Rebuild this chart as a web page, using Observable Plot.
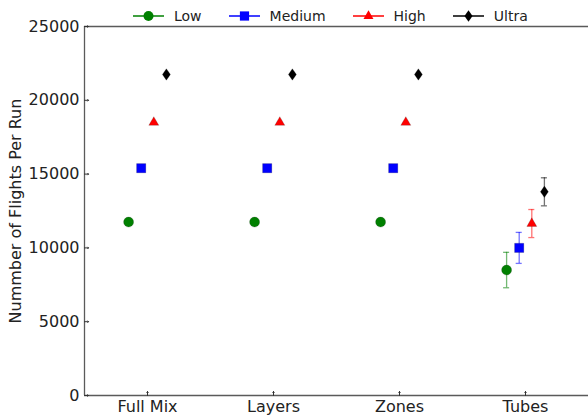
<!DOCTYPE html>
<html>
<head>
<meta charset="utf-8">
<script src="https://cdn.jsdelivr.net/npm/d3@7"></script>
<script src="https://cdn.jsdelivr.net/npm/@observablehq/plot@0.6"></script>
<style>
  html, body { margin: 0; padding: 0; background: #fff; }
  #wrap { position: relative; width: 588px; height: 418px; font-family: "DejaVu Sans", sans-serif; }
  #legend { position: absolute; top: 6px; left: 133px; display: flex; align-items: center; font-size: 14px; color: #222; }
  #legend .item { display: flex; align-items: center; margin-right: 27px; }
  #legend svg { margin-right: 10px; overflow: visible; }
</style>
</head>
<body>
<div id="wrap"><div id="legend"></div></div>
<script>
const categories = ["Full Mix", "Layers", "Zones", "Tubes"];
const seriesNames = ["Low", "Medium", "High", "Ultra"];
const lowValues = [11750, 11750, 11750, 8500];
const lowErrors = [0, 0, 0, 1200];
const mediumValues = [15400, 15400, 15400, 10000];
const mediumErrors = [0, 0, 0, 1050];
const highValues = [18500, 18500, 18500, 11650];
const highErrors = [0, 0, 0, 950];
const ultraValues = [21750, 21750, 21750, 13800];
const ultraErrors = [0, 0, 0, 950];
const yTicks = [0, 5000, 10000, 15000, 20000, 25000];
const yLabel = "Nummber of Flights Per Run";

const colors = ["#008000", "#0000ff", "#ff0000", "#000000"];
const offsets = [-0.15, -0.05, 0.05, 0.15];
const markerR = [5, 5.2, 3.7, 5];
const thinDiamond = {
  draw(context, size) {
    const r = Math.sqrt(size / Math.PI);
    const w = r * 0.8, h = r * 1.15;
    context.moveTo(0, -h);
    context.lineTo(w, 0);
    context.lineTo(0, h);
    context.lineTo(-w, 0);
    context.closePath();
  }
};
const symbols = [d3.symbolCircle, d3.symbolSquare, d3.symbolTriangle, thinDiamond];

const valueSets = [lowValues, mediumValues, highValues, ultraValues];
const errorSets = [lowErrors, mediumErrors, highErrors, ultraErrors];
const rows = [];
seriesNames.forEach((s, si) => {
  categories.forEach((c, ci) => {
    rows.push({
      series: s,
      si,
      x: ci + offsets[si],
      y: valueSets[si][ci],
      lo: valueSets[si][ci] - errorSets[si][ci],
      hi: valueSets[si][ci] + errorSets[si][ci],
      err: errorSets[si][ci]
    });
  });
});
const errRows = rows.filter(d => d.err > 0);
const cap = 0.024;
const xTicks = d3.range(categories.length);
const xMin = -0.5, xMax = categories.length - 0.5;
const yMin = yTicks[0], yMax = yTicks[yTicks.length - 1];
const axisColor = "#5a5a5a";

const dotMarks = seriesNames.map((s, si) =>
  Plot.dot(rows.filter(d => d.si === si), {
    x: "x", y: "y", fill: colors[si], symbol: symbols[si], r: markerR[si],
    stroke: "#222", strokeWidth: 0.4, strokeOpacity: 0.5
  })
);

const chart = Plot.plot({
  width: 588,
  height: 418,
  marginLeft: 84,
  marginRight: 0,
  marginTop: 26,
  marginBottom: 23,
  style: { fontFamily: "DejaVu Sans, sans-serif", fontSize: "16px", color: "#222", background: "#fff" },
  x: { domain: [xMin, xMax] },
  y: { domain: [yMin, yMax] },
  marks: [
    Plot.ruleY([yMax], { stroke: axisColor, strokeWidth: 1.3 }),
    Plot.ruleY([yMin], { stroke: axisColor, strokeWidth: 1.3 }),
    Plot.ruleX([xMin], { stroke: axisColor, strokeWidth: 1.3 }),
    Plot.axisY({ ticks: yTicks, tickSize: 0, tickPadding: 5, tickFormat: d => String(d), label: null, fontSize: 16 }),
    Plot.vector(yTicks, { x: xMin, y: d => d, rotate: 90, length: 4, anchor: "start", stroke: "#333", strokeWidth: 1 }),
    Plot.axisX({ ticks: xTicks, tickFormat: i => categories[i], tickSize: 0, tickPadding: 5, label: null, fontSize: 16 }),
    Plot.vector(xTicks, { x: d => d, y: yMin, rotate: 0, length: 4, anchor: "start", stroke: "#333", strokeWidth: 1 }),
    Plot.text([yLabel], { frameAnchor: "left", rotate: -90, dx: -69, textAnchor: "middle", fontSize: 16, fill: "#222" }),
    Plot.ruleX(errRows, { x: "x", y1: "lo", y2: "hi", stroke: d => colors[d.si], strokeOpacity: 0.55, strokeWidth: 1.3 }),
    Plot.ruleY(errRows, { y: "lo", x1: d => d.x - cap, x2: d => d.x + cap, stroke: d => colors[d.si], strokeOpacity: 0.55, strokeWidth: 1.3 }),
    Plot.ruleY(errRows, { y: "hi", x1: d => d.x - cap, x2: d => d.x + cap, stroke: d => colors[d.si], strokeOpacity: 0.55, strokeWidth: 1.3 }),
    ...dotMarks
  ]
});
document.getElementById("wrap").appendChild(chart);

// legend
const legend = document.getElementById("legend");
seriesNames.forEach((s, i) => {
  const item = document.createElement("div");
  item.className = "item";
  const ns = "http://www.w3.org/2000/svg";
  const svg = document.createElementNS(ns, "svg");
  svg.setAttribute("width", 31);
  svg.setAttribute("height", 20);
  const line = document.createElementNS(ns, "line");
  line.setAttribute("x1", 0); line.setAttribute("x2", 31);
  line.setAttribute("y1", 10); line.setAttribute("y2", 10);
  line.setAttribute("stroke", colors[i]); line.setAttribute("stroke-width", 1.5);
  svg.appendChild(line);
  const path = document.createElementNS(ns, "path");
  path.setAttribute("d", d3.symbol(symbols[i], Math.PI * markerR[i] * markerR[i])());
  path.setAttribute("transform", "translate(15.5,10)");
  path.setAttribute("fill", colors[i]);
  svg.appendChild(path);
  const label = document.createElement("span");
  label.textContent = s;
  item.appendChild(svg);
  item.appendChild(label);
  legend.appendChild(item);
});
</script>
</body>
</html>
